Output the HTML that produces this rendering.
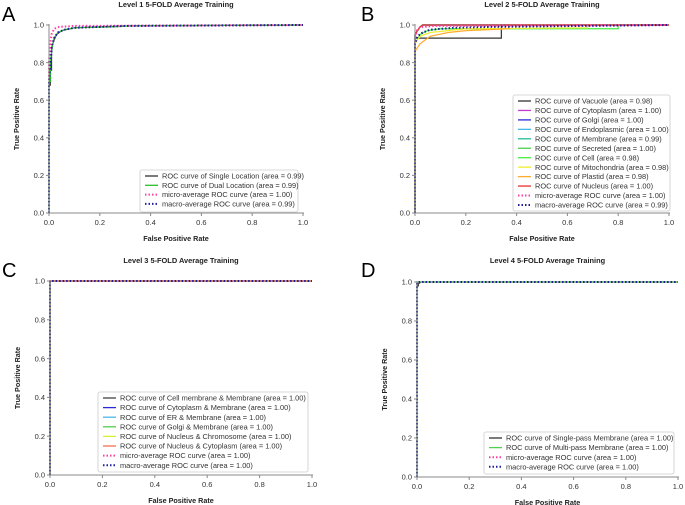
<!DOCTYPE html>
<html><head><meta charset="utf-8"><style>
html,body{margin:0;padding:0;background:#fff;width:685px;height:505px;overflow:hidden}
svg{display:block;font-family:"Liberation Sans","DejaVu Sans",sans-serif}
</style></head><body>
<svg id="fig" width="685" height="505" viewBox="0 0 685 505" xmlns="http://www.w3.org/2000/svg"></svg>
<script>
// ---- data ----
const ticks = [0, 0.2, 0.4, 0.6, 0.8, 1.0];
const tickLabels = ["0.0","0.2","0.4","0.6","0.8","1.0"];
// Panel A
const aSingleFpr = [0,0,0.005,0.005,0.01,0.01,0.02,0.03,0.05,0.1,0.2,0.3,1];
const aSingleTpr = [0,0.68,0.68,0.76,0.76,0.88,0.92,0.95,0.97,0.985,0.99,0.995,1];
const aDualFpr = [0,0,0.006,0.006,0.012,0.02,0.035,0.06,0.1,0.25,0.35,1];
const aDualTpr = [0,0.7,0.7,0.8,0.88,0.93,0.96,0.975,0.985,0.99,0.997,1];
const aMicroFpr = [0,0,0.005,0.01,0.02,0.04,0.1,1];
const aMicroTpr = [0,0.8,0.9,0.95,0.98,0.99,0.995,1];
const aMacroFpr = [0,0,0.006,0.012,0.02,0.035,0.06,0.1,0.3,1];
const aMacroTpr = [0,0.7,0.8,0.89,0.93,0.96,0.975,0.985,0.995,1];
// Panel B
const bVacFpr = [0,0,0.01,0.01,0.34,0.34,1];
const bVacTpr = [0,0.93,0.93,0.93,0.93,1,1];
const bPlaFpr = [0,0,0.01,0.02,0.04,0.06,0.13,0.2,0.37,0.37,1];
const bPlaTpr = [0,0.86,0.88,0.9,0.92,0.94,0.96,0.97,0.98,1,1];
const bCellFpr = [0,0,0.02,0.05,0.1,0.8,0.8,1];
const bCellTpr = [0,0.9,0.95,0.97,0.98,0.98,1,1];
const bMitoFpr = [0,0,0.02,0.06,0.2,0.68,0.68,1];
const bMitoTpr = [0,0.9,0.94,0.96,0.98,0.985,1,1];
const bOtherFpr = [0,0,0.01,0.02,0.03,1];
const bOtherTpr = [0,0.95,0.97,0.99,1,1];
const bMicroFpr = [0,0,0.005,0.01,0.03,0.08,1];
const bMicroTpr = [0,0.9,0.96,0.98,0.99,0.995,1];
const bMacroFpr = [0,0,0.01,0.03,0.06,0.15,0.3,1];
const bMacroTpr = [0,0.9,0.94,0.96,0.975,0.985,0.99,1];
// Panels C & D
const cFpr = [0,0,0.002,1];
const cTpr = [0,0.999,1,1];
const dSingleFpr = [0,0,0.005,0.005,0.015,1];
const dSingleTpr = [0,0.98,0.98,0.99,1,1];
const dFpr = [0,0,0.004,1];
const dTpr = [0,0.995,1,1];

const svg = document.getElementById('fig');
const NS = 'http://www.w3.org/2000/svg';
function mk(tag, attrs, parent){
  const e = document.createElementNS(NS, tag);
  for (const k in attrs) e.setAttribute(k, attrs[k]);
  (parent||svg).appendChild(e); return e;
}
function txt(x,y,s,size,opts,parent){
  const t = mk('text', Object.assign({x:x,y:y,'font-size':size,fill:'#222'},opts||{}), parent);
  t.textContent = s; return t;
}

function panel(p){
  const g = mk('g', {});
  
  
  const xs = v => p.x0 + v*(p.x1-p.x0);
  const ys = v => p.y0 - v*(p.y0-p.y1);
  const L = txt(p.lx, p.ly, p.letter, 20, {fill:'#000'}, g);
  
  
  const T = txt((p.x0+p.x1)/2, p.ty, p.title, 7.4, {'font-weight':'bold','text-anchor':'middle'}, g);
  
  
  p.series.forEach(s => {
    let d = '';
    s.fx.forEach((v,i) => { d += (i?'L':'M') + xs(v).toFixed(2) + ' ' + ys(s.fy[i]).toFixed(2); });
    const path = mk('path', {d:d, fill:'none', stroke:s.color, 'stroke-width':s.dot?2:1.2, 'stroke-dasharray':s.dot?'1.5 2':'none'}, g);
    
    
  });
  const ax = mk('path', {d:`M${p.x0} ${p.y1-1}V${p.y0}H${p.x1+1}`, fill:'none', stroke:'#888', 'stroke-width':1}, g);
  
  
  ticks.forEach((t,i) => {
    mk('line', {x1:xs(t),x2:xs(t),y1:p.y0,y2:p.y0+3,stroke:'#888'}, g);
    const xt = txt(xs(t), p.y0+12, tickLabels[i], 7.5, {'text-anchor':'middle',fill:'#333'}, g);
    
    
    mk('line', {x1:p.x0-3,x2:p.x0,y1:ys(t),y2:ys(t),stroke:'#888'}, g);
    const yt = txt(p.x0-5, ys(t)+2.7, tickLabels[i], 7.5, {'text-anchor':'end',fill:'#333'}, g);
    
    
  });
  const xl = txt((p.x0+p.x1)/2, p.y0+28, 'False Positive Rate', 7.2, {'font-weight':'bold','text-anchor':'middle'}, g);
  
  
  const yc = (p.y0+p.y1)/2;
  const yl = txt(p.x0-30, yc, 'True Positive Rate', 7.2, {'font-weight':'bold','text-anchor':'middle',transform:`rotate(-90 ${p.x0-30} ${yc})`}, g);
  
  
  const lg = mk('g', {}, g);
  
  
  mk('rect', {x:p.leg[0], y:p.leg[1], width:p.leg[2], height:p.leg[3], rx:2, fill:'#fff', stroke:'#ccc', 'stroke-width':0.8}, lg);
  p.series.filter(s=>s.label).forEach((s,i) => {
    const yy = p.leg[1] + 6 + i*p.rowH;
    const e = mk('g', {}, lg);
    
    
    mk('line', {x1:p.leg[0]+5, x2:p.leg[0]+18, y1:yy, y2:yy, stroke:s.color, 'stroke-width':s.dot?2:1.3, 'stroke-dasharray':s.dot?'1.5 2':'none'}, e);
    txt(p.leg[0]+22, yy+2.6, s.label, 7.4, {fill:'#333'}, e);
  });
}

panel({letter:'A', lx:2, ly:21, title:'Level 1 5-FOLD Average Training', ty:7,
  x0:49, x1:303, y0:213, y1:25, leg:[140,170,158,42], rowH:9.3,
  series:[
    {key:'single',color:'#333',fx:aSingleFpr,fy:aSingleTpr,label:'ROC curve of Single Location (area = 0.99)'},
    {key:'dual',color:'#2bbf2b',fx:aDualFpr,fy:aDualTpr,label:'ROC curve of Dual Location (area = 0.99)'},
    {key:'micro',color:'#ff3fa0',dot:1,fx:aMicroFpr,fy:aMicroTpr,label:'micro-average ROC curve (area = 1.00)'},
    {key:'macro',color:'#1c1c9c',dot:1,fx:aMacroFpr,fy:aMacroTpr,label:'macro-average ROC curve (area = 0.99)'}]});

panel({letter:'B', lx:361, ly:21, title:'Level 2 5-FOLD Average Training', ty:7,
  x0:415, x1:669, y0:213, y1:25, leg:[513,95,157,116], rowH:9.45,
  series:[
    {key:'vacuole',color:'#333',fx:bVacFpr,fy:bVacTpr,label:'ROC curve of Vacuole (area = 0.98)'},
    {key:'cytoplasm',color:'#c03ccf',fx:bOtherFpr,fy:bOtherTpr,label:'ROC curve of Cytoplasm (area = 1.00)'},
    {key:'golgi',color:'#2a2ad8',fx:bOtherFpr,fy:bOtherTpr,label:'ROC curve of Golgi (area = 1.00)'},
    {key:'endoplasmic',color:'#4ab8e6',fx:bOtherFpr,fy:bOtherTpr,label:'ROC curve of Endoplasmic (area = 1.00)'},
    {key:'membrane',color:'#1fbf9a',fx:bOtherFpr,fy:bOtherTpr,label:'ROC curve of Membrane (area = 0.99)'},
    {key:'secreted',color:'#4fcf4f',fx:bOtherFpr,fy:bOtherTpr,label:'ROC curve of Secreted (area = 1.00)'},
    {key:'cell',color:'#44ee44',fx:bCellFpr,fy:bCellTpr,label:'ROC curve of Cell (area = 0.98)'},
    {key:'mito',color:'#eeee30',fx:bMitoFpr,fy:bMitoTpr,label:'ROC curve of Mitochondria (area = 0.98)'},
    {key:'plastid',color:'#ffab2e',fx:bPlaFpr,fy:bPlaTpr,label:'ROC curve of Plastid (area = 0.98)'},
    {key:'nucleus',color:'#e83030',fx:bOtherFpr,fy:bOtherTpr,label:'ROC curve of Nucleus (area = 1.00)'},
    {key:'micro',color:'#ff3fa0',dot:1,fx:bMicroFpr,fy:bMicroTpr,label:'micro-average ROC curve (area = 1.00)'},
    {key:'macro',color:'#1c1c9c',dot:1,fx:bMacroFpr,fy:bMacroTpr,label:'macro-average ROC curve (area = 0.99)'}]});

panel({letter:'C', lx:2, ly:277, title:'Level 3 5-FOLD Average Training', ty:263,
  x0:50, x1:312, y0:475, y1:281, leg:[98,392,210,80], rowH:9.6,
  series:[
    {key:'cellmem',color:'#444',fx:cFpr,fy:cTpr,label:'ROC curve of Cell membrane & Membrane (area = 1.00)'},
    {key:'cytomem',color:'#2a2ad8',fx:cFpr,fy:cTpr,label:'ROC curve of Cytoplasm & Membrane (area = 1.00)'},
    {key:'ermem',color:'#4ab8e6',fx:cFpr,fy:cTpr,label:'ROC curve of ER & Membrane (area = 1.00)'},
    {key:'golgimem',color:'#4fcf4f',fx:cFpr,fy:cTpr,label:'ROC curve of Golgi & Membrane (area = 1.00)'},
    {key:'nucchr',color:'#d8ee30',fx:cFpr,fy:cTpr,label:'ROC curve of Nucleus & Chromosome (area = 1.00)'},
    {key:'nuccyt',color:'#f07050',fx:cFpr,fy:cTpr,label:'ROC curve of Nucleus & Cytoplasm (area = 1.00)'},
    {key:'micro',color:'#ff3fa0',dot:1,fx:cFpr,fy:cTpr,label:'micro-average ROC curve (area = 1.00)'},
    {key:'macro',color:'#1c1c9c',dot:1,fx:cFpr,fy:cTpr,label:'macro-average ROC curve (area = 1.00)'}]});

panel({letter:'D', lx:361, ly:277, title:'Level 4 5-FOLD Average Training', ty:263,
  x0:417, x1:678, y0:477, y1:282, leg:[484,432,190,42], rowH:9.6,
  series:[
    {key:'single',color:'#333',fx:dSingleFpr,fy:dSingleTpr,label:'ROC curve of Single-pass Membrane (area = 1.00)'},
    {key:'multi',color:'#4fcf4f',fx:dFpr,fy:dTpr,label:'ROC curve of Multi-pass Membrane (area = 1.00)'},
    {key:'micro',color:'#ff3fa0',dot:1,fx:dFpr,fy:dTpr,label:'micro-average ROC curve (area = 1.00)'},
    {key:'macro',color:'#1c1c9c',dot:1,fx:dFpr,fy:dTpr,label:'macro-average ROC curve (area = 1.00)'}]});
</script>
</body></html>
